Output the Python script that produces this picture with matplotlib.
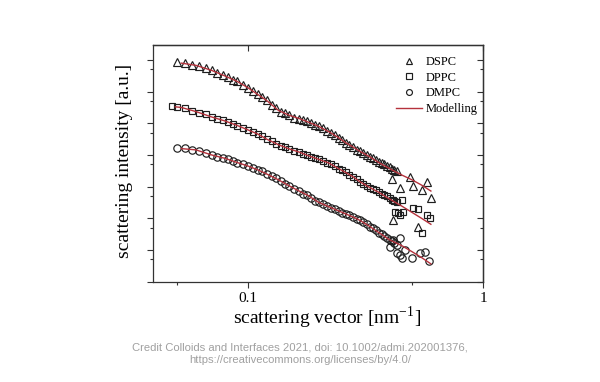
import numpy as np
import matplotlib
matplotlib.use("Agg")
import matplotlib.pyplot as plt
from matplotlib.ticker import LogLocator, FixedLocator, FixedFormatter, NullFormatter

plt.rcParams['font.family'] = ['Liberation Serif', 'DejaVu Serif']
plt.rcParams['mathtext.fontset'] = 'stix'

# scattering vector q [nm^-1], shared grid of the measured points
q = [0.050, 0.054, 0.058, 0.062, 0.066, 0.070, 0.074, 0.078, 0.082, 0.086,
     0.090, 0.095, 0.100, 0.105, 0.110, 0.115, 0.120, 0.126, 0.132, 0.138,
     0.144, 0.150, 0.157, 0.164, 0.171, 0.178, 0.185, 0.193, 0.201, 0.209,
     0.217, 0.225, 0.234, 0.243, 0.252, 0.261, 0.270, 0.280, 0.290, 0.300,
     0.310, 0.320, 0.330, 0.340, 0.350, 0.360, 0.370, 0.380, 0.390, 0.400,
     0.410, 0.420, 0.430]

# log10 of intensity (arbitrary units)
dspc_log = [5.92, 5.89, 5.84, 5.81, 5.75, 5.67, 5.60, 5.51, 5.46, 5.38,
            5.32, 5.21, 5.12, 5.02, 4.91, 4.83, 4.72, 4.58, 4.48, 4.37,
            4.31, 4.25, 4.18, 4.15, 4.10, 4.06, 4.01, 3.95, 3.90, 3.84,
            3.77, 3.69, 3.62, 3.54, 3.47, 3.39, 3.32, 3.25, 3.17, 3.11,
            3.05, 3.00, 2.94, 2.89, 2.84, 2.79, 2.75, 2.70, 2.65, 2.61,
            2.57, 2.53, 2.49]
dppc_log = [4.52, 4.47, 4.40, 4.34, 4.28, 4.20, 4.15, 4.09, 4.04, 3.98,
            3.93, 3.85, 3.79, 3.73, 3.66, 3.60, 3.50, 3.43, 3.36, 3.28,
            3.24, 3.19, 3.14, 3.09, 3.03, 3.00, 2.95, 2.90, 2.86, 2.81,
            2.76, 2.70, 2.64, 2.57, 2.51, 2.45, 2.37, 2.31, 2.23, 2.15,
            2.08, 2.02, 1.97, 1.93, 1.88, 1.83, 1.78, 1.75, 1.69, 1.64,
            1.59, 1.55, 1.50]
dmpc_log = [3.23, 3.21, 3.17, 3.13, 3.06, 3.00, 2.95, 2.90, 2.86, 2.81,
            2.76, 2.70, 2.65, 2.59, 2.53, 2.48, 2.40, 2.34, 2.26, 2.17,
            2.08, 2.02, 1.94, 1.86, 1.78, 1.72, 1.64, 1.56, 1.50, 1.44,
            1.39, 1.34, 1.28, 1.23, 1.18, 1.14, 1.09, 1.04, 0.98, 0.93,
            0.87, 0.81, 0.74, 0.68, 0.62, 0.55, 0.49, 0.44, 0.38, 0.32,
            0.27, 0.22, 0.17]

# first DPPC point sits below the shared grid
dppc_q0, dppc_log0 = 0.0476, 4.55

# noisy high-q tails
dspc_tail_q = [0.408, 0.415, 0.444, 0.489, 0.505, 0.531, 0.548, 0.576, 0.599]
dspc_tail_log = [2.23, 0.95, 1.95, 2.31, 2.02, 0.72, 1.89, 2.13, 1.63]
dppc_tail_q = [0.415, 0.422, 0.435, 0.444, 0.451, 0.455, 0.505, 0.531, 0.548, 0.576, 0.596]
dppc_tail_log = [1.58, 1.21, 1.17, 1.11, 1.58, 1.21, 1.32, 1.29, 0.53, 1.11, 1.00]
dmpc_tail_q = [0.402, 0.415, 0.430, 0.444, 0.444, 0.451, 0.466, 0.497, 0.540, 0.567, 0.591]
dmpc_tail_log = [0.10, 0.32, -0.09, 0.37, -0.16, -0.26, 0.00, -0.26, -0.10, -0.06, -0.35]

# model curves
model_q = [0.052, 0.06, 0.07, 0.08, 0.09, 0.10, 0.11, 0.12, 0.135, 0.15,
           0.165, 0.18, 0.20, 0.22, 0.24, 0.26, 0.28, 0.30, 0.33, 0.36,
           0.40, 0.45, 0.50, 0.55, 0.60]
dspc_model = [5.90, 5.83, 5.67, 5.49, 5.32, 5.12, 4.91, 4.72, 4.40, 4.25,
              4.15, 4.04, 3.90, 3.74, 3.57, 3.39, 3.25, 3.11, 2.94, 2.76,
              2.57, 2.37, 2.21, 2.04, 1.86]
dppc_model = [4.50, 4.37, 4.20, 4.07, 3.93, 3.79, 3.66, 3.50, 3.32, 3.19,
              3.09, 2.98, 2.86, 2.75, 2.59, 2.45, 2.31, 2.15, 1.97, 1.82,
              1.61, 1.39, 1.18, 0.99, 0.81]
dmpc_model = [3.20, 3.16, 3.00, 2.89, 2.76, 2.65, 2.53, 2.40, 2.21, 2.02,
              1.86, 1.72, 1.50, 1.37, 1.25, 1.14, 1.04, 0.93, 0.74, 0.55,
              0.32, 0.14, -0.06, -0.25, -0.44]

red = '#b5323c'

fig = plt.figure(figsize=(6, 3.82), dpi=100)
ax = fig.add_axes([0.255, 0.262, 0.55, 0.62])

mk = dict(linestyle='none', markerfacecolor='none', markeredgecolor='#1e1e1e',
          markeredgewidth=0.85)
ax.plot(q + dspc_tail_q, 10 ** np.array(dspc_log + dspc_tail_log), marker='^',
        markersize=5.6, label='DSPC', **mk)
ax.plot([dppc_q0] + q + dppc_tail_q, 10 ** np.array([dppc_log0] + dppc_log + dppc_tail_log),
        marker='s', markersize=4.8, label='DPPC', **mk)
ax.plot(q + dmpc_tail_q, 10 ** np.array(dmpc_log + dmpc_tail_log), marker='o',
        markersize=5.3, label='DMPC', **mk)

ax.plot(model_q, 10 ** np.array(dspc_model), color=red, lw=1.0, label='Modelling', zorder=3)
ax.plot([0.049] + model_q, 10 ** np.array([4.52] + dppc_model), color=red, lw=1.0, zorder=3)
ax.plot(model_q, 10 ** np.array(dmpc_model), color=red, lw=1.0, zorder=3)

ax.set_xscale('log')
ax.set_yscale('log')
ax.set_xlim(0.0394, 1.0)
ax.set_ylim(10 ** -1.01, 10 ** 6.47)

ax.xaxis.set_major_locator(FixedLocator([0.1, 1]))
ax.xaxis.set_major_formatter(FixedFormatter(['0.1', '1']))
ax.xaxis.set_minor_locator(FixedLocator([0.05, 0.5]))
ax.xaxis.set_minor_formatter(NullFormatter())
ax.yaxis.set_major_locator(LogLocator(base=10, numticks=20))
ax.yaxis.set_minor_locator(LogLocator(base=10, subs=[5], numticks=20))
ax.yaxis.set_major_formatter(NullFormatter())
ax.yaxis.set_minor_formatter(NullFormatter())
ax.tick_params(which='both', direction='out', color='#333333', width=0.8, labelsize=11, pad=3)
ax.tick_params(which='major', length=4)
ax.tick_params(which='minor', length=2.5)

for s in ax.spines.values():
    s.set_linewidth(0.9)
    s.set_color('#333333')

sec_y = ax.secondary_yaxis('right')
sec_y.yaxis.set_major_locator(LogLocator(base=10, numticks=20))
sec_y.yaxis.set_minor_locator(LogLocator(base=10, subs=[5], numticks=20))
sec_y.yaxis.set_major_formatter(NullFormatter())
sec_y.yaxis.set_minor_formatter(NullFormatter())
sec_y.tick_params(which='both', direction='in', color='#333333', width=0.8)
sec_y.tick_params(which='major', length=4)
sec_y.tick_params(which='minor', length=2.5)
sec_y.spines['right'].set_linewidth(0.9)

sec_x = ax.secondary_xaxis('top')
sec_x.xaxis.set_major_locator(FixedLocator([0.1, 1]))
sec_x.xaxis.set_minor_locator(FixedLocator([]))
sec_x.xaxis.set_major_formatter(NullFormatter())
sec_x.tick_params(which='both', direction='in', color='#333333', width=0.8, length=4)
sec_x.spines['top'].set_linewidth(0.9)

ax.set_xlabel(r'scattering vector [nm$^{\mathregular{-1}}$]', fontsize=14)
ax.xaxis.set_label_coords(0.528, -0.098)
ax.set_ylabel('scattering intensity [a.u.]', fontsize=14)
ax.yaxis.set_label_coords(-0.06, 0.51)

leg = ax.legend(loc='upper left', bbox_to_anchor=(0.717, 0.98), frameon=False,
                fontsize=8.9, handlelength=2.1, handletextpad=0.3, labelspacing=0.3,
                borderpad=0, markerscale=0.8)

fig.text(0.5, 0.045,
         'Credit Colloids and Interfaces 2021, doi: 10.1002/admi.202001376,\n'
         'https://creativecommons.org/licenses/by/4.0/',
         ha='center', va='bottom', fontsize=8.1, color='#a0a0a0',
         family='Liberation Sans', linespacing=1.35)

fig.savefig('out.png', dpi=100)
